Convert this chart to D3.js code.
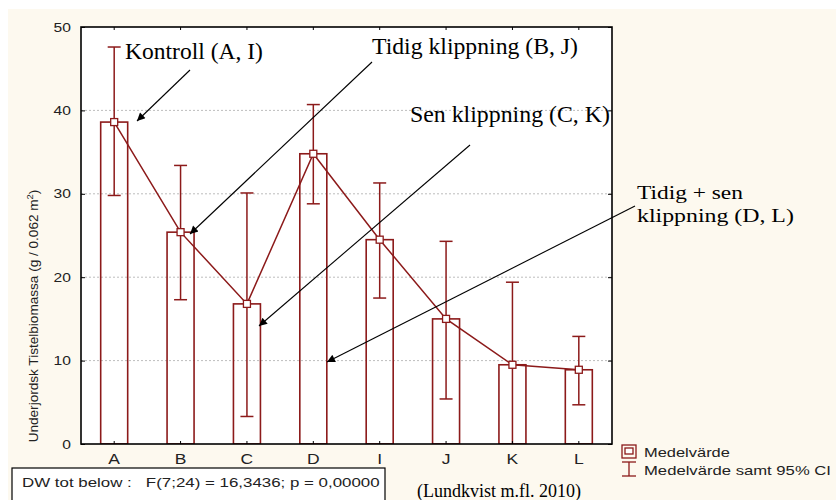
<!DOCTYPE html>
<html><head><meta charset="utf-8">
<script src="https://cdn.jsdelivr.net/npm/d3@7/dist/d3.min.js"></script>
<style>body{margin:0;background:#fff}svg{display:block}</style>
</head><body><svg id="c" width="836" height="500"></svg>
<script>
const categories = ["A","B","C","D","I","J","K","L"];
const means   = [38.6, 25.4, 16.8, 34.8, 24.5, 15.0, 9.5, 8.9];
const ciUpper = [47.6, 33.4, 30.1, 40.7, 31.3, 24.3, 19.4, 12.9];
const ciLower = [29.8, 17.3, 3.3, 28.8, 17.5, 5.4, -0.5, 4.7];
const yTicks = [0, 10, 20, 30, 40, 50];
const legendLabels = ["Medelvärde", "Medelvärde samt 95% CI"];
const statText = "DW tot below :   F(7;24) = 16,3436; p = 0,00000";
const yTitle = "Underjordsk Tistelbiomassa (g / 0.062 m";
const citation = "(Lundkvist m.fl. 2010)";
const annotationTexts = [["Kontroll (A, I)"], ["Tidig klippning (B, J)"], ["Sen klippning (C, K)"], ["Tidig + sen", "klippning (D, L)"]];

// layout (pixel positions / widths of annotation labels and arrows)
const annLayout = [
  {x:125, y:59, size:22.5, w:[138], from:[190,70], to:[137,121]},
  {x:372, y:54, size:22.5, w:[206], from:[372,62], to:[190,234]},
  {x:410, y:122, size:22.5, w:[200], from:[470,145], to:[259,326]},
  {x:637, y:199, size:19.5, lh:23, w:[106,157], from:[635,206], to:[327,362]}
];

const RED = "#8c1a1a";
const M = {l:81, t:27, r:612, b:444};
const svg = d3.select("#c");
const font = "'Liberation Sans', Arial, sans-serif";
const serif = "'Liberation Serif','Times New Roman',serif";

function fitText(parent, s, x0, y0, size, width, family=font, fill="#222") {
  const t = parent.append("text").attr("font-family",family).attr("font-size",size)
    .attr("fill",fill).style("white-space","pre").text(s);
  const w = t.node().getComputedTextLength();
  t.attr("transform", `translate(${x0},${y0}) scale(${width / w},1)`);
  return t;
}

svg.append("rect").attr("x",8).attr("y",9).attr("width",828).attr("height",491).attr("fill","#fdf9ef");

const x = d3.scaleBand().domain(categories).range([M.l, M.r]).paddingInner(0).paddingOuter(0);
const y = d3.scaleLinear().domain([0,50]).range([M.b, M.t]);

const defs = svg.append("defs");
defs.append("clipPath").attr("id","pc")
  .append("rect").attr("x",M.l).attr("y",M.t).attr("width",M.r-M.l).attr("height",M.b-M.t);

svg.append("rect").attr("x",M.l).attr("y",M.t).attr("width",M.r-M.l).attr("height",M.b-M.t).attr("fill","#fff");

svg.append("g").selectAll("line").data(yTicks.filter(d=>d>0 && d<50)).join("line")
  .attr("x1",M.l).attr("x2",M.r).attr("y1",d=>y(d)).attr("y2",d=>y(d))
  .attr("stroke","#bdbdbd").attr("stroke-dasharray","2,2").attr("stroke-width",1);

const data = categories.map((c,i)=>({c, m:means[i], hi:ciUpper[i], lo:ciLower[i]}));
const bw = 27;
const cx = d => x(d.c) + x.bandwidth()/2;
const plot = svg.append("g").attr("clip-path","url(#pc)");

plot.selectAll("rect.bar").data(data).join("rect").attr("class","bar")
  .attr("x",d=>cx(d)-bw/2).attr("width",bw)
  .attr("y",d=>y(d.m)).attr("height",d=>y(0)-y(d.m))
  .attr("fill","none").attr("stroke",RED).attr("stroke-width",1.6);

const eb = plot.selectAll("g.eb").data(data).join("g").attr("class","eb")
  .attr("stroke",RED).attr("stroke-width",1.5);
eb.append("line").attr("x1",cx).attr("x2",cx).attr("y1",d=>y(d.lo)).attr("y2",d=>y(d.hi));
eb.append("line").attr("x1",d=>cx(d)-6.5).attr("x2",d=>cx(d)+6.5).attr("y1",d=>y(d.hi)).attr("y2",d=>y(d.hi));
eb.append("line").attr("x1",d=>cx(d)-6.5).attr("x2",d=>cx(d)+6.5).attr("y1",d=>y(d.lo)).attr("y2",d=>y(d.lo));

plot.append("path").datum(data)
  .attr("d", d3.line().x(cx).y(d=>y(d.m)))
  .attr("fill","none").attr("stroke",RED).attr("stroke-width",1.5);

plot.selectAll("rect.mk").data(data).join("rect").attr("class","mk")
  .attr("x",d=>cx(d)-3.5).attr("y",d=>y(d.m)-3.5).attr("width",7).attr("height",7)
  .attr("fill","#fff").attr("stroke",RED).attr("stroke-width",1.3);

const gy = svg.append("g").attr("transform",`translate(${M.l},0)`)
  .call(d3.axisLeft(y).tickValues(yTicks).tickSize(-4).tickPadding(8.5).tickFormat(d3.format("d")));
gy.select(".domain").remove();
gy.selectAll("line").attr("stroke","#000");
gy.selectAll("text").attr("font-family",font).attr("font-size",13).attr("fill","#222")
  .attr("transform","scale(1.2,1)");

const gyr = svg.append("g").attr("transform",`translate(${M.r},0)`)
  .call(d3.axisRight(y).tickValues(yTicks).tickSize(-4).tickFormat(""));
gyr.select(".domain").remove(); gyr.selectAll("line").attr("stroke","#000");

const gx = svg.append("g").attr("transform",`translate(0,${M.b})`)
  .call(d3.axisBottom(x).tickSize(-3).tickPadding(10));
gx.select(".domain").remove();
gx.selectAll("line").attr("stroke","#000");
gx.selectAll("text").attr("font-family",font).attr("font-size",14).attr("fill","#222")
  .attr("transform","scale(1.25,1)");

const gxt = svg.append("g").attr("transform",`translate(0,${M.t})`)
  .call(d3.axisTop(x).tickSize(-3).tickFormat(""));
gxt.select(".domain").remove(); gxt.selectAll("line").attr("stroke","#000");

svg.append("rect").attr("x",M.l).attr("y",M.t).attr("width",M.r-M.l).attr("height",M.b-M.t)
  .attr("fill","none").attr("stroke","#000").attr("stroke-width",1.6);

const yt = svg.append("text").attr("font-family",font).attr("font-size",13).attr("fill","#222")
  .attr("text-anchor","middle");
yt.append("tspan").text(yTitle);
yt.append("tspan").attr("dy",-5).attr("font-size",9).text("2");
yt.append("tspan").attr("dy",5).text(")");
{
  const w = yt.node().getComputedTextLength();
  yt.attr("transform",`translate(38,316) rotate(-90) scale(${253/w},1)`);
}

defs.append("marker").attr("id","ah").attr("viewBox","0 0 10 10").attr("refX",10).attr("refY",5)
  .attr("markerWidth",10).attr("markerHeight",8).attr("markerUnits","userSpaceOnUse").attr("orient","auto")
  .append("path").attr("d","M0,0 L10,5 L0,10 Z").attr("fill","#000");
annotationTexts.forEach((lines,i)=>{
  const L = annLayout[i];
  svg.append("line").attr("x1",L.from[0]).attr("y1",L.from[1]).attr("x2",L.to[0]).attr("y2",L.to[1])
    .attr("stroke","#000").attr("stroke-width",1.1).attr("marker-end","url(#ah)");
  lines.forEach((s,j)=> fitText(svg, s, L.x, L.y + j*(L.lh||0), L.size, L.w[j], serif, "#000"));
});

const lg = svg.append("g").attr("stroke",RED).attr("stroke-width",1.3).attr("fill","none");
lg.append("rect").attr("x",622).attr("y",445).attr("width",14).attr("height",13);
lg.append("rect").attr("x",625).attr("y",448).attr("width",8).attr("height",6).attr("fill","#fff");
lg.append("line").attr("x1",622).attr("x2",636).attr("y1",462).attr("y2",462);
lg.append("line").attr("x1",622).attr("x2",636).attr("y1",476).attr("y2",476);
lg.append("line").attr("x1",629).attr("x2",629).attr("y1",462).attr("y2",476);
const legW = [86, 187];
legendLabels.forEach((s,i)=> fitText(svg, s, 644, 457+i*18, 13, legW[i]));

svg.append("rect").attr("x",12).attr("y",468).attr("width",373).attr("height",40)
  .attr("fill","#fff").attr("stroke","#000").attr("stroke-width",1.2);
fitText(svg, statText, 22, 487, 13, 358);

svg.append("text").attr("x",417).attr("y",497).attr("font-family",serif)
  .attr("font-size",18).attr("fill","#000").text(citation);
</script></body></html>
